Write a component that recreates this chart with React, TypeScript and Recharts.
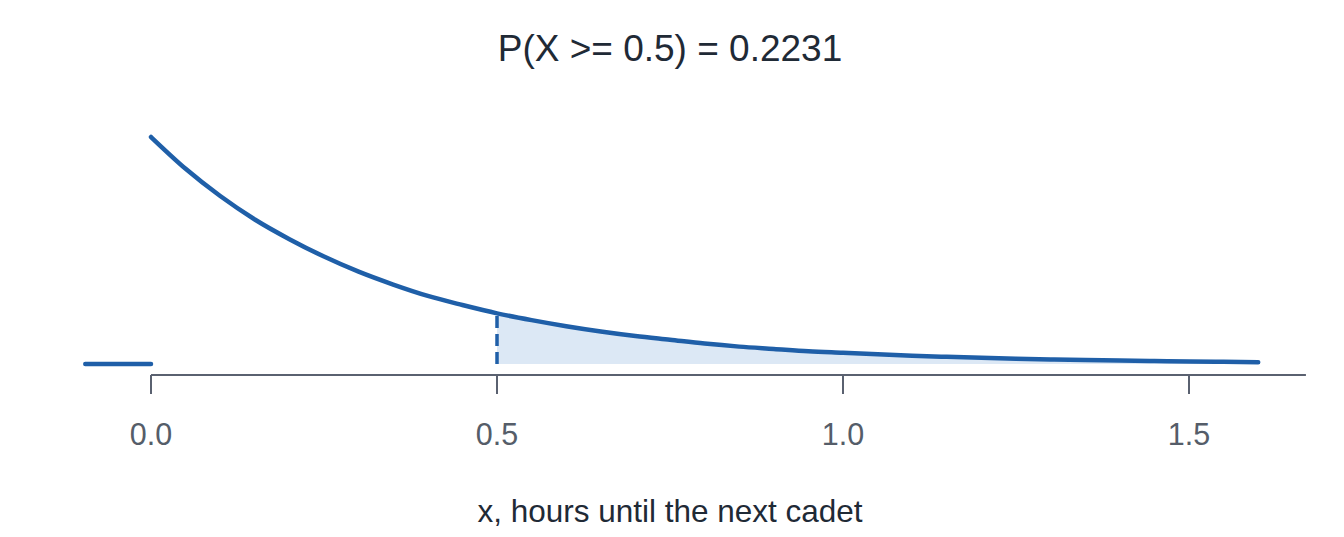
import React from "react";
import {
  ComposedChart,
  Line,
  Area,
  XAxis,
  YAxis,
  ReferenceLine,
} from "recharts";

// density, x in hours
const xValues = [
  0, 0.05, 0.1, 0.15, 0.2, 0.25, 0.3, 0.35, 0.4, 0.45, 0.5, 0.55, 0.6, 0.65,
  0.7, 0.75, 0.8, 0.85, 0.9, 0.95, 1.0, 1.05, 1.1, 1.15, 1.2, 1.25, 1.3, 1.35,
  1.4, 1.45, 1.5, 1.55, 1.6,
];
const densityValues = [
  3.0, 2.58, 2.22, 1.91, 1.65, 1.42, 1.22, 1.05, 0.9, 0.78, 0.67, 0.58, 0.5,
  0.43, 0.37, 0.32, 0.27, 0.23, 0.2, 0.17, 0.15, 0.13, 0.11, 0.095, 0.082,
  0.071, 0.061, 0.052, 0.045, 0.039, 0.033, 0.029, 0.025,
];
const leftTailX = [-0.095, 0];
const leftTailY = [0, 0];
const cutoff = 0.5;
const cutoffDensity = 0.67;
const xTicks = [0, 0.5, 1.0, 1.5];
const title = "P(X >= 0.5) = 0.2231";
const xLabel = "x, hours until the next cadet";

const curve = xValues.map((x, i) => ({ x, y: densityValues[i] }));
const shaded = curve.filter((d) => d.x >= cutoff);
const leftTail = leftTailX.map((x, i) => ({ x, y: leftTailY[i] }));
const cutoffLine = [
  { x: cutoff, y: 0 },
  { x: cutoff, y: cutoffDensity },
];

const BLUE = "#1f5fa8";
const FONT = "'Liberation Sans', Arial, sans-serif";

export default function App() {
  return (
    <div
      style={{
        position: "fixed",
        top: 0,
        left: 0,
        width: 1344,
        height: 537,
        background: "#fff",
        fontFamily: FONT,
      }}
    >
      <div
        style={{
          position: "absolute",
          top: 27,
          left: 0,
          width: 1340,
          textAlign: "center",
          fontSize: 37,
          color: "#1f2a36",
          lineHeight: "44px",
        }}
      >
        {title}
      </div>
      <ComposedChart
        width={1344}
        height={537}
        margin={{ top: 100, right: 27, left: 23, bottom: 102 }}
      >
        <XAxis
          type="number"
          dataKey="x"
          domain={[-0.185, 1.685]}
          ticks={xTicks}
          tickFormatter={(v: number) => v.toFixed(1)}
          axisLine={false}
          tickLine={{ stroke: "#5a6170", strokeWidth: 2 }}
          tickSize={19}
          tickMargin={29}
          tick={{ fill: "#555d69", fontSize: 30.5, fontFamily: FONT }}
          height={60}
          allowDataOverflow
        />
        <YAxis type="number" domain={[-0.145, 3.489]} hide allowDataOverflow />
        <ReferenceLine
          segment={[
            { x: 0, y: -0.145 },
            { x: 1.669, y: -0.145 },
          ]}
          stroke="#5a6170"
          strokeWidth={2}
          ifOverflow="visible"
        />
        <Area
          data={shaded}
          dataKey="y"
          type="monotone"
          baseValue={0}
          fill="#dce8f5"
          fillOpacity={1}
          stroke="none"
          isAnimationActive={false}
        />
        <Line
          data={cutoffLine}
          dataKey="y"
          type="linear"
          stroke={BLUE}
          strokeWidth={3.5}
          strokeDasharray="12 6"
          dot={false}
          isAnimationActive={false}
        />
        <Line
          data={leftTail}
          dataKey="y"
          type="linear"
          stroke={BLUE}
          strokeWidth={4.5}
          strokeLinecap="round"
          dot={false}
          isAnimationActive={false}
        />
        <Line
          data={curve}
          dataKey="y"
          type="monotone"
          stroke={BLUE}
          strokeWidth={4.5}
          strokeLinecap="round"
          dot={false}
          isAnimationActive={false}
        />
        <text
          x={670}
          y={522}
          textAnchor="middle"
          fontSize={31.5}
          fill="#1f2a36"
          fontFamily={FONT}
        >
          {xLabel}
        </text>
      </ComposedChart>
    </div>
  );
}
